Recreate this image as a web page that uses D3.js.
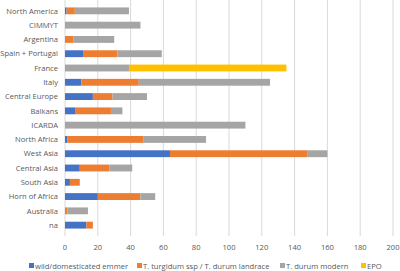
<!DOCTYPE html>
<html>
<head>
<meta charset="utf-8">
<script src="https://cdn.jsdelivr.net/npm/d3@7"></script>
<style>
  body { margin: 0; background: #fff; }
  text { font-family: "Open Sans", "DejaVu Sans", sans-serif; }
</style>
</head>
<body>
<div id="chart"></div>
<script>
// values
const regions = ["North America", "CIMMYT", "Argentina", "Spain + Portugal", "France", "Italy",
  "Central Europe", "Balkans", "ICARDA", "North Africa", "West Asia", "Central Asia",
  "South Asia", "Horn of Africa", "Australia", "na"];
const emmer    = [1, 0, 0, 11, 0, 10, 17, 6.5, 0, 1.5, 64, 9, 3, 20, 0, 13];
const landrace = [5, 0, 5, 21, 0, 35, 12, 21.5, 0, 46.5, 84, 18, 6, 26, 1.5, 4];
const modern   = [33, 46, 25, 27, 39, 80, 21, 7, 110, 38, 12, 14, 0, 9, 12.5, 0];
const epo      = [0, 0, 0, 0, 96, 0, 0, 0, 0, 0, 0, 0, 0, 0, 0, 0];
const seriesNames = ["wild/domesticated emmer", "T. turgidum ssp / T. durum landrace", "T. durum modern", "EPO"];
const colors = ["#4472C4", "#ED7D31", "#A5A5A5", "#FFC000"];
const xTicks = [0, 20, 40, 60, 80, 100, 120, 140, 160, 180, 200];

const width = 400, height = 271;
const margin = {top: 0, right: 7, bottom: 35, left: 65};

const svg = d3.select('#chart').append('svg')
    .attr('width', width)
    .attr('height', height);

const table = regions.map((r, i) => ({
    region: r, s0: emmer[i], s1: landrace[i], s2: modern[i], s3: epo[i]
}));
const stack = d3.stack().keys(["s0", "s1", "s2", "s3"])(table);

const x = d3.scaleLinear().domain([0, 200]).range([margin.left, 393]);
const y = d3.scaleBand().domain(regions).range([margin.top, 236]).padding(0.52);

// grid
svg.append('g')
    .selectAll('line')
    .data(xTicks)
    .join('line')
    .attr('x1', d => x(d)).attr('x2', d => x(d))
    .attr('y1', 0).attr('y2', 236)
    .attr('stroke', '#D9D9D9')
    .attr('stroke-width', 1);

// bars
svg.append('g')
    .selectAll('g')
    .data(stack)
    .join('g')
    .attr('fill', (d, i) => colors[i])
    .selectAll('rect')
    .data(d => d)
    .join('rect')
    .attr('x', d => x(d[0]))
    .attr('y', d => y(d.data.region))
    .attr('width', d => x(d[1]) - x(d[0]))
    .attr('height', y.bandwidth());

// category labels
svg.append('g')
    .selectAll('text')
    .data(regions)
    .join('text')
    .attr('x', 58)
    .attr('y', d => y(d) + y.bandwidth() / 2)
    .attr('dy', '0.35em')
    .attr('text-anchor', 'end')
    .attr('font-size', 7.6)
    .attr('fill', '#595959')
    .text(d => d);

// x tick labels
svg.append('g')
    .selectAll('text')
    .data(xTicks)
    .join('text')
    .attr('x', d => x(d))
    .attr('y', 250)
    .attr('text-anchor', 'middle')
    .attr('font-size', 7.6)
    .attr('fill', '#595959')
    .text(d => d);

// legend
const legendX = [29, 137, 280, 361];
const legend = svg.append('g')
    .selectAll('g')
    .data(seriesNames)
    .join('g')
    .attr('transform', (d, i) => `translate(${legendX[i]},266)`);
legend.append('rect')
    .attr('x', 0).attr('y', -3)
    .attr('width', 5).attr('height', 5)
    .attr('fill', (d, i) => colors[i]);
legend.append('text')
    .attr('x', 6)
    .attr('y', 0)
    .attr('dy', '0.35em')
    .attr('font-size', 7.6)
    .attr('fill', '#595959')
    .text(d => d);
</script>
</body>
</html>
